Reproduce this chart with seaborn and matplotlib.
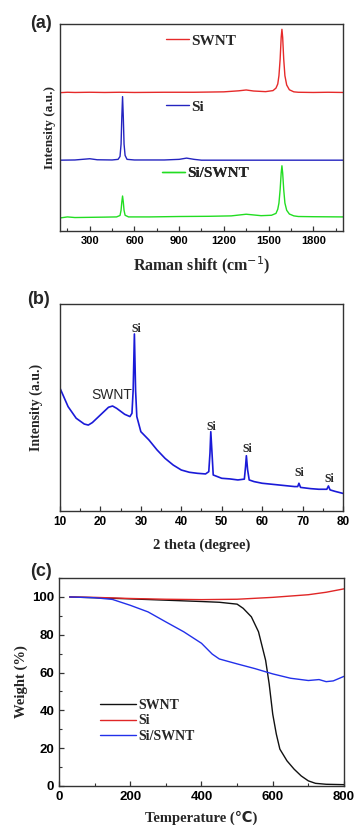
import matplotlib
matplotlib.use("Agg")
import matplotlib.pyplot as plt
import seaborn as sns
import numpy as np
from matplotlib.ticker import MultipleLocator

sns.set_theme(style="ticks")
plt.rcParams['font.family'] = ['Liberation Sans', 'DejaVu Sans']

# ---------------- (a) Raman data ----------------
raman_swnt_x = [100, 150, 200, 300, 400, 500, 600, 800, 1000, 1200, 1300, 1350, 1400, 1480, 1530, 1550,
                1562, 1570, 1578, 1585, 1590, 1595, 1602, 1610, 1622, 1640, 1670, 1700, 1800, 1900, 2000]
raman_swnt_y = [66.8, 67.0, 66.9, 67.0, 66.9, 67.0, 66.9, 67.0, 67.0, 67.2, 67.7, 68.1, 67.6, 67.3, 67.8, 69.0,
                71.0, 75.0, 83.0, 93.5, 97.4, 93.5, 83.0, 75.0, 70.5, 68.2, 67.2, 67.0, 66.9, 67.0, 66.9]
raman_si_x = [100, 200, 300, 350, 450, 490, 503, 510, 515, 520, 525, 530, 537, 550, 600, 800, 900, 950,
              1000, 1050, 1200, 1500, 1800, 2000]
raman_si_y = [34.2, 34.3, 34.9, 34.4, 34.3, 34.6, 36.0, 42.0, 55.0, 64.9, 55.0, 42.0, 36.5, 34.6, 34.3, 34.3,
              34.6, 35.2, 34.6, 34.2, 34.2, 34.2, 34.2, 34.2]
raman_mix_x = [100, 150, 200, 300, 400, 480, 503, 510, 515, 520, 525, 530, 537, 560, 700, 900, 1100, 1250,
               1350, 1450, 1520, 1550, 1562, 1570, 1578, 1585, 1590, 1595, 1602, 1610, 1622, 1640, 1670, 1700,
               1800, 2000]
raman_mix_y = [6.3, 6.8, 6.5, 6.6, 6.7, 6.8, 7.5, 10.0, 14.0, 16.9, 14.0, 10.0, 7.6, 6.8, 6.8, 7.0, 7.1, 7.3,
               8.1, 7.4, 7.6, 8.5, 10.5, 13.5, 20.0, 28.0, 31.5, 28.0, 20.0, 13.5, 10.0, 8.2, 7.3, 7.0,
               6.9, 6.8]
raman_labels = ["SWNT", "Si", "Si/SWNT"]

# ---------------- (b) XRD data ----------------
xrd_x = [10, 12, 14, 16, 17, 18, 20, 22, 23, 24, 26, 27.3, 27.8, 28.1, 28.4, 28.7, 29.0, 30, 32, 34, 36, 38,
         40, 42, 44, 46, 46.8, 47.1, 47.3, 47.6, 47.9, 50, 52, 54, 55.6, 55.9, 56.1, 56.4, 56.8, 58, 60, 62,
         64, 66, 68, 68.8, 69.1, 69.5, 72, 74, 76, 76.4, 76.8, 78, 80]
xrd_y = [59.3, 50.4, 44.8, 42.0, 41.5, 42.7, 46.4, 50.1, 50.7, 49.6, 46.7, 45.6, 47.2, 58.5, 85.5, 58.0, 45.6,
         38.3, 34.3, 29.5, 25.4, 22.2, 19.8, 18.7, 18.2, 17.9, 19.0, 28.0, 38.3, 28.0, 17.4, 15.8, 15.5, 15.0,
         15.4, 21.5, 26.7, 20.0, 15.0, 14.2, 13.4, 13.0, 12.6, 12.2, 11.8, 11.8, 13.4, 11.4, 10.8, 10.5, 10.5,
         12.1, 10.2, 9.5, 8.5]
xrd_si_peaks_x = [28.8, 47.5, 56.3, 69.1, 76.6]
xrd_si_peaks_y = [87.8, 40.7, 29.8, 18.2, 15.5]

# ---------------- (c) TGA data ----------------
tga_swnt_x = [30, 100, 200, 300, 400, 450, 500, 517, 540, 560, 580, 590, 600, 610, 620, 640, 660, 680, 700,
              720, 750, 800]
tga_swnt_y = [100, 99.6, 99.0, 98.3, 97.6, 97.2, 96.2, 94.0, 89.5, 81.6, 66.5, 54.0, 38.0, 27.5, 19.5, 13.3,
              8.9, 5.3, 2.7, 1.4, 0.9, 0.7]
tga_si_x = [30, 100, 200, 300, 400, 500, 600, 700, 750, 800]
tga_si_y = [100, 99.8, 99.2, 98.8, 98.6, 98.8, 99.8, 101.2, 102.5, 104.3]
tga_mix_x = [30, 100, 150, 200, 250, 300, 350, 400, 430, 450, 500, 550, 600, 650, 700, 730, 750, 770, 800]
tga_mix_y = [100, 99.6, 98.7, 95.6, 92.1, 86.8, 81.6, 75.5, 69.8, 67.2, 64.6, 62.1, 59.3, 57.0, 55.8, 56.3,
             55.2, 55.6, 58.0]
tga_labels = ["SWNT", "Si", "Si/SWNT"]

serif = ['Liberation Serif', 'DejaVu Sans']
sans = ['Liberation Sans', 'DejaVu Sans']

fig = plt.figure(figsize=(3.54, 8.25), dpi=100)
fig.patch.set_facecolor('white')

def style_axes(ax, fs):
    for s in ax.spines.values():
        s.set_color('#333333')
        s.set_linewidth(1.0)
    ax.tick_params(which='both', direction='in', top=False, right=False, colors='#333333')
    ax.tick_params(which='major', length=3.5, width=0.9, labelsize=fs)
    ax.tick_params(which='minor', length=2, width=0.8)
    for t in ax.get_xticklabels() + ax.get_yticklabels():
        t.set_fontfamily(sans)
        t.set_fontweight('bold')
        t.set_color('black')
    ax.set_facecolor('white')

# ---- (a)
ax1 = fig.add_axes([0.1695, 0.72, 0.7994, 0.251])
cols_a = ['#e62a2a', '#2424c0', '#22dd22']
data_a = [(raman_swnt_x, raman_swnt_y), (raman_si_x, raman_si_y), (raman_mix_x, raman_mix_y)]
handles_a = []
for (x, y), c in zip(data_a, cols_a):
    sns.lineplot(x=x, y=y, ax=ax1, color=c, lw=1.0, sort=False, estimator=None)
    handles_a.append(ax1.lines[-1])
ax1.set_xlim(100, 2000)
ax1.set_ylim(0, 100)
ax1.set_yticks([])
ax1.xaxis.set_major_locator(MultipleLocator(300))
ax1.xaxis.set_minor_locator(MultipleLocator(150))
ax1.set_xticks([300, 600, 900, 1200, 1500, 1800])
style_axes(ax1, 8)
ax1.set_xlabel('Raman shift (cm$^{-1}$)', fontfamily=serif, fontweight='bold', fontsize=11.5, labelpad=6)
ax1.set_ylabel('Intensity (a.u.)', fontfamily=serif, fontweight='bold', fontsize=9.5, labelpad=3)
leg_pos = [(0.375, 0.918), (0.375, 0.599), (0.362, 0.28)]
for h, lab, pos in zip(handles_a, raman_labels, leg_pos):
    lg = ax1.legend([h], [lab], loc='center left', bbox_to_anchor=pos, frameon=False,
                    borderaxespad=0, borderpad=0, handlelength=1.5, handletextpad=0.15,
                    prop={'family': serif, 'weight': 'bold', 'size': 11})
    ax1.add_artist(lg)

# ---- (b)
ax2 = fig.add_axes([0.1695, 0.3806, 0.7994, 0.251])
sns.lineplot(x=xrd_x, y=xrd_y, ax=ax2, color='#1a1ad8', lw=1.2, sort=False, estimator=None)
ax2.set_xlim(10, 80)
ax2.set_ylim(0, 100)
ax2.set_yticks([])
ax2.xaxis.set_major_locator(MultipleLocator(10))
ax2.xaxis.set_minor_locator(MultipleLocator(5))
style_axes(ax2, 8.5)
ax2.set_xlabel('2 theta (degree)', fontfamily=serif, fontweight='bold', fontsize=10.5, labelpad=8)
ax2.set_ylabel('Intensity (a.u.)', fontfamily=serif, fontweight='bold', fontsize=10, labelpad=12)
for px, py in zip(xrd_si_peaks_x, xrd_si_peaks_y):
    ax2.text(px, py, 'Si', ha='center', va='center', fontfamily=serif, fontweight='bold', fontsize=8.5)
ax2.text(22.8, 56.0, 'SWNT', ha='center', va='center', fontfamily=sans, fontsize=10)

# ---- (c)
ax3 = fig.add_axes([0.1667, 0.0473, 0.805, 0.252])
cols_c = ['#111111', '#e02626', '#2230ea']
data_c = [(tga_swnt_x, tga_swnt_y), (tga_si_x, tga_si_y), (tga_mix_x, tga_mix_y)]
handles_c = []
for (x, y), c in zip(data_c, cols_c):
    sns.lineplot(x=x, y=y, ax=ax3, color=c, lw=1.0, sort=False, estimator=None)
    handles_c.append(ax3.lines[-1])
ax3.set_xlim(0, 800)
ax3.set_ylim(0, 110)
ax3.xaxis.set_major_locator(MultipleLocator(200))
ax3.xaxis.set_minor_locator(MultipleLocator(100))
ax3.yaxis.set_major_locator(MultipleLocator(20))
ax3.yaxis.set_minor_locator(MultipleLocator(10))
ax3.set_yticks([0, 20, 40, 60, 80, 100])
style_axes(ax3, 9.5)
ax3.set_xlabel('Temperature (℃)', fontfamily=serif, fontweight='bold', fontsize=10.5, labelpad=6)
ax3.set_ylabel('Weight (%)', fontfamily=serif, fontweight='bold', fontsize=10.5, labelpad=3)
ax3.legend(handles_c, tga_labels, loc='center left', bbox_to_anchor=(0.145, 0.313), frameon=False,
           borderaxespad=0, borderpad=0, handlelength=2.6, handletextpad=0.1, labelspacing=0.2,
           prop={'family': serif, 'weight': 'bold', 'size': 10})

# panel labels
fig.text(0.085, 1 - 24 / 825, '(a)', fontfamily=sans, fontweight='bold', fontsize=13, va='center', ha='left')
fig.text(0.078, 1 - 300 / 825, '(b)', fontfamily=sans, fontweight='bold', fontsize=13, va='center', ha='left')
fig.text(0.085, 1 - 572 / 825, '(c)', fontfamily=sans, fontweight='bold', fontsize=13, va='center', ha='left')

fig.savefig('out.png', dpi=100, facecolor='white')
